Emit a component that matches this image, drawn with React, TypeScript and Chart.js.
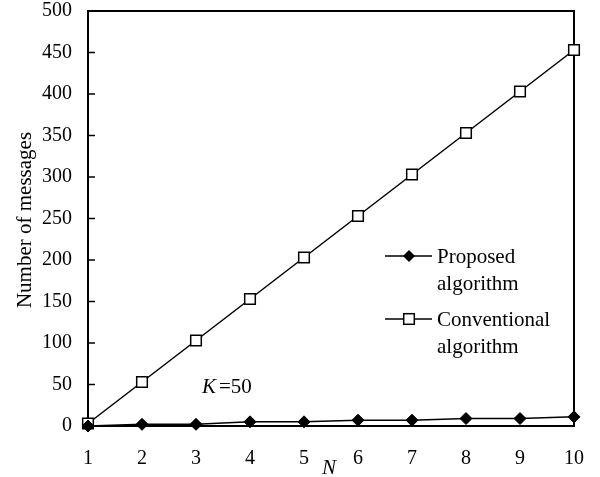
import React, { useEffect, useRef } from 'react';
import { Chart, registerables } from 'chart.js';

Chart.register(...registerables);

const nLabels = ['1', '2', '3', '4', '5', '6', '7', '8', '9', '10'];
const proposedValues = [0, 2, 2, 5, 5, 7, 7, 9, 9, 11];
const conventionalValues = [3, 53, 103, 153, 203, 253, 303, 353, 403, 453];
const yInnerTicks = [50, 100, 150, 200, 250, 300, 350, 400, 450];
const legendNames = [['Proposed', 'algorithm'], ['Conventional', 'algorithm']];

const FONT = "'Liberation Serif', 'Times New Roman', serif";

const overlayPlugin = {
  id: 'overlay',
  beforeDatasetsDraw(chart: any) {
    const { ctx, chartArea, scales } = chart;
    ctx.save();
    ctx.strokeStyle = '#000';
    ctx.lineWidth = 2;
    ctx.strokeRect(chartArea.left, chartArea.top, chartArea.right - chartArea.left, chartArea.bottom - chartArea.top);
    ctx.lineWidth = 1.5;
    yInnerTicks.forEach((v) => {
      const y = scales.y.getPixelForValue(v);
      ctx.beginPath();
      ctx.moveTo(chartArea.left, y);
      ctx.lineTo(chartArea.left + 7, y);
      ctx.stroke();
    });
    ctx.restore();
  },
  afterDraw(chart: any) {
    const { ctx } = chart;
    ctx.save();
    ctx.fillStyle = '#000';
    ctx.strokeStyle = '#000';
    // Y title
    ctx.save();
    ctx.translate(25, 220);
    ctx.rotate(-Math.PI / 2);
    ctx.font = `21px ${FONT}`;
    ctx.textAlign = 'center';
    ctx.textBaseline = 'middle';
    ctx.fillText('Number of messages', 0, 0);
    ctx.restore();
    // K=50
    ctx.textBaseline = 'middle';
    ctx.textAlign = 'left';
    ctx.font = `italic 21px ${FONT}`;
    ctx.fillText('K', 202, 387);
    ctx.font = `21px ${FONT}`;
    ctx.fillText('=50', 219, 387);
    // N
    ctx.font = `italic 21px ${FONT}`;
    ctx.fillText('N', 322, 468);
    // Legend
    const rows = [256, 319];
    rows.forEach((y, i) => {
      ctx.lineWidth = 1.5;
      ctx.beginPath();
      ctx.moveTo(385, y);
      ctx.lineTo(432, y);
      ctx.stroke();
      const cx = 409;
      if (i === 0) {
        const r = 6;
        ctx.beginPath();
        ctx.moveTo(cx, y - r);
        ctx.lineTo(cx + r, y);
        ctx.lineTo(cx, y + r);
        ctx.lineTo(cx - r, y);
        ctx.closePath();
        ctx.fill();
      } else {
        const s = 5.3;
        ctx.fillStyle = '#fff';
        ctx.fillRect(cx - s, y - s, 2 * s, 2 * s);
        ctx.fillStyle = '#000';
        ctx.strokeRect(cx - s, y - s, 2 * s, 2 * s);
      }
      ctx.font = `21px ${FONT}`;
      ctx.fillText(legendNames[i][0], 437, y + 1);
      ctx.fillText(legendNames[i][1], 437, y + 28);
    });
    ctx.restore();
  },
};

export default function App() {
  const ref = useRef<HTMLCanvasElement>(null);
  useEffect(() => {
    if (!ref.current) return;
    const chart = new Chart(ref.current, {
      type: 'line',
      data: {
        labels: nLabels,
        datasets: [
          {
            label: 'Proposed algorithm',
            data: proposedValues,
            borderColor: '#000',
            backgroundColor: '#000',
            borderWidth: 1.5,
            pointStyle: 'rectRot',
            pointRadius: 6,
            pointBorderWidth: 1,
            clip: false,
          },
          {
            label: 'Conventional algorithm',
            data: conventionalValues,
            borderColor: '#000',
            backgroundColor: '#fff',
            borderWidth: 1.5,
            pointStyle: 'rect',
            pointRadius: 7.5,
            pointBorderWidth: 1.5,
            clip: false,
          },
        ],
      },
      options: {
        responsive: false,
        animation: false,
        layout: { padding: { top: 11, right: 26, left: 0, bottom: 0 } },
        plugins: { legend: { display: false }, tooltip: { enabled: false } },
        scales: {
          x: {
            type: 'category',
            offset: false,
            grid: { display: false, drawTicks: false },
            border: { display: false },
            ticks: { color: '#000', font: { family: FONT, size: 20 }, padding: 21, maxRotation: 0, autoSkip: false },
            afterFit(scale: any) {
              scale.height = 51;
              scale.paddingLeft = 0;
              scale.paddingRight = 0;
            },
          },
          y: {
            min: 0,
            max: 500,
            grid: { display: false, drawTicks: false },
            border: { display: false },
            ticks: { stepSize: 50, color: '#000', font: { family: FONT, size: 20 }, padding: 16 },
            afterFit(scale: any) {
              scale.width = 88;
              scale.paddingTop = 0;
              scale.paddingBottom = 0;
            },
          },
        },
      },
      plugins: [overlayPlugin],
    });
    return () => chart.destroy();
  }, []);
  return (
    <div style={{ position: 'absolute', left: 0, top: 0, width: 600, height: 477, background: '#fff' }}>
      <canvas ref={ref} width={600} height={477} />
    </div>
  );
}
